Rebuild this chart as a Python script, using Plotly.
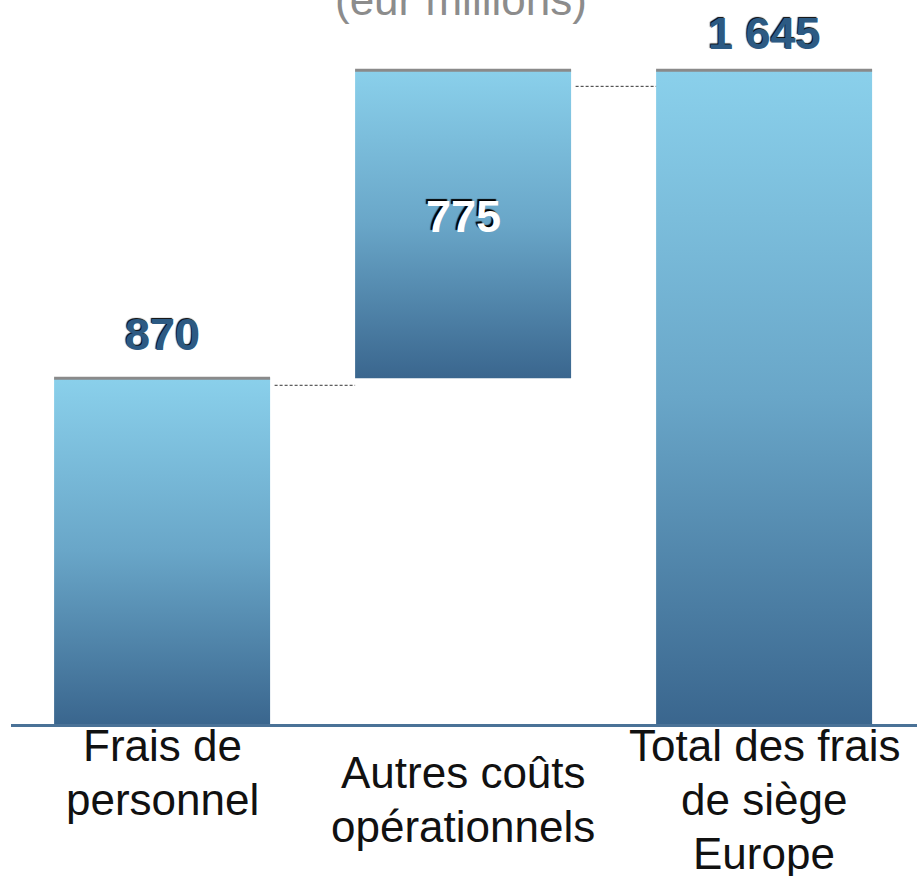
import plotly.graph_objects as go

# ---- data ----
categories = ["Frais de<br>personnel", "Autres coûts<br>opérationnels", "Total des frais<br>de siège<br>Europe"]
step_values = [870, 775]
total_value = 1645
value_labels = ["870", "775", "1 645"]
title_text = "(eur millions)"

# ---- derived waterfall geometry ----
bases = [0, step_values[0], 0]
tops = [step_values[0], step_values[0] + step_values[1], total_value]

# ---- style / layout ----
W, H = 917, 876
M_L, M_R, M_T, M_B = 11, 0, 0, 152
X_RANGE = [-0.502, 2.508]
Y_RANGE = [0, 1822]
BAR_W = 0.7176
units_per_px = (Y_RANGE[1] - Y_RANGE[0]) / (H - M_T - M_B)

LIGHT = "#8AD0EB"
MID = "#69A6C8"
DARK = "#3A668E"
TEXT_BLUE = "#2C5A83"
FONT = "Liberation Sans, Arial, sans-serif"

fig = go.Figure()

for i in range(3):
    x0, x1 = i - BAR_W / 2, i + BAR_W / 2
    b, t = bases[i], tops[i]
    fig.add_trace(go.Scatter(
        x=[x0, x1, x1, x0, x0], y=[b, b, t, t, b],
        mode="lines", fill="toself", line=dict(width=0),
        fillgradient=dict(type="vertical", start=b, stop=t,
                          colorscale=[[0, DARK], [0.5, MID], [1, LIGHT]]),
        hoverinfo="skip", showlegend=False))
    # gray top edge
    fig.add_trace(go.Scatter(
        x=[x0, x1], y=[t, t], mode="lines",
        line=dict(color="#8A8A8A", width=3),
        hoverinfo="skip", showlegend=False))

# dashed connectors
conn_drop_px = [7, 16]
for i in range(2):
    lvl = tops[i] - conn_drop_px[i] * units_per_px
    fig.add_trace(go.Scatter(
        x=[i + BAR_W / 2 + 0.015, i + 1 - BAR_W / 2], y=[lvl, lvl], mode="lines",
        line=dict(color="#333333", width=1, dash="3px,2px"),
        hoverinfo="skip", showlegend=False))

annotations = []
# value labels
label_y = [tops[0], (bases[1] + tops[1]) / 2, tops[2]]
label_shift = [44, 8, 37]
label_color = [TEXT_BLUE, "white", TEXT_BLUE]
label_shadow = ["-1px -1px 1px #000", "-2px -2px 1px #000", "-1px -1px 1px #000"]
for i in range(3):
    annotations.append(dict(
        x=i, y=label_y[i], xref="x", yref="y", text=value_labels[i],
        showarrow=False, yanchor="middle", yshift=label_shift[i],
        font=dict(family=FONT, size=45, color=label_color[i], weight="bold",
                  shadow=label_shadow[i])))

# category labels (line by line)
line_gap = 54
first_line_px = 21
line_offsets = [0, 0.5, 0]
for i, cat in enumerate(categories):
    for k, line in enumerate(cat.split("<br>")):
        annotations.append(dict(
            x=i, y=0, xref="x", yref="paper", text=line, showarrow=False,
            yanchor="middle",
            yshift=-(first_line_px + line_gap * (k + line_offsets[i])),
            font=dict(family=FONT, size=44, color="#111111")))

# title (clipped at top, as in the reference)
annotations.append(dict(
    x=0.5, y=1, xref="paper", yref="paper", text=title_text, showarrow=False,
    yanchor="bottom", yshift=-26, xshift=-3,
    font=dict(family=FONT, size=44, color="#8C8C8C")))

fig.update_layout(
    width=W, height=H,
    margin=dict(l=M_L, r=M_R, t=M_T, b=M_B),
    paper_bgcolor="white", plot_bgcolor="white",
    annotations=annotations,
    xaxis=dict(range=X_RANGE, showgrid=False, zeroline=False,
               showticklabels=False, ticks="", showline=True,
               linecolor="#4A7297", linewidth=3, fixedrange=True),
    yaxis=dict(range=Y_RANGE, showgrid=False, zeroline=False,
               showticklabels=False, ticks="", showline=False, fixedrange=True),
    showlegend=False,
)

fig.write_html(
    "out.html",
    config={"displayModeBar": False},
    post_script="document.body.style.margin='0';document.body.style.overflow='hidden';",
)
